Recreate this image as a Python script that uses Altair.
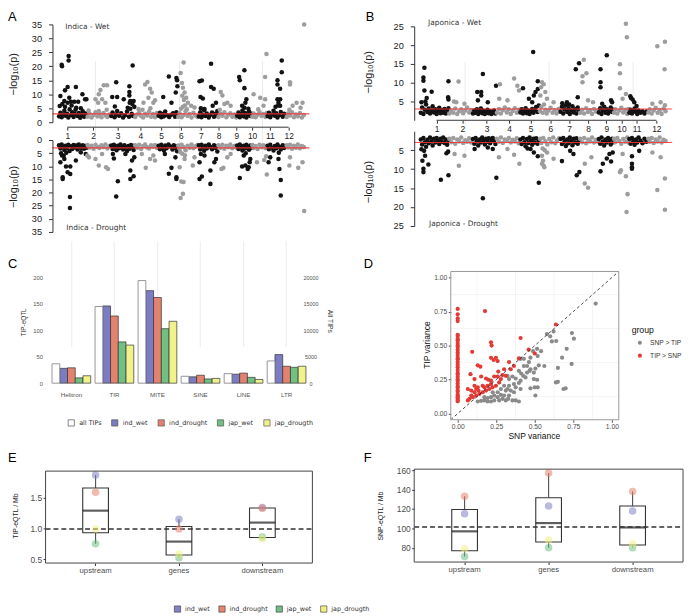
import altair as alt
import pandas as pd

FONT = "Liberation Sans"
DEJA = "DejaVu Sans"
W, H = 685, 608   # drawing area (page minus the 8px margin)

# ---------------- data: panels A / B (Manhattan plots) ----------------
CHROM_LEN = [43.3, 35.9, 36.4, 35.5, 29.9, 31.2, 29.7, 28.4, 23.0, 23.2, 29.0, 27.5]
A_TICKS = [13.5, 52.5, 90, 124.5, 156, 186, 216, 243, 270, 294, 321, 349.5]
B_TICKS = [25, 64, 101, 135, 167.5, 197.5, 226, 255, 282.5, 305.5, 328.5, 358.5]

# (Mb within chromosome, -log10 p) per chromosome
IND_WET = [
    [(1,2.1),(3,3.4),(5,1.8),(7,2.8),(9,4.1),(11,2.3),(13,3.0),(15,1.7),(17,4.6),(19,2.6),(21,3.6),(23,1.9),(25,2.9),(27,5.2),(29,2.2),(31,3.3),(33,1.6),(35,2.7),(37,3.9),(39,2.0),(41,3.1),(43,2.4),(2,5.8),(6,6.5),(10,5.5),(14,7.0),(20,6.0),(26,4.5),(34,5.0),
     (5,20.6),(5.5,20.0),(15.5,23.7),(15.5,22.1),(14,12.6),(10,11.4),(26.5,12.6),(3,9.4),(9,7.6),(19,7.3),(24,7.3),(30,7.3),(16.5,8.8),(36.5,10.0),(40.5,8.2),(42.5,8.2)],
    [(1,2.0),(4,3.1),(7,1.7),(10,2.6),(13,3.6),(16,2.1),(19,2.9),(22,1.8),(25,3.3),(28,2.4),(31,1.9),(34,2.8),(2.5,4.2),(18,4.0),(30,4.5),
     (18,10.0),(20.5,11.5),(25.5,13.2),(30.5,13.2),(13,8.2),(23,8.2),(17,7.0),(28,7.0)],
    [(1,2.2),(3,3.5),(6,1.8),(8,2.7),(10,4.0),(13,2.3),(16,3.2),(19,1.7),(22,2.5),(25,3.8),(28,2.0),(30,4.8),(32,3.0),(34,2.2),(36,5.5),(26,5.2),(33,6.5),(29,7.0),
     (8.5,14.3),(2.5,9.0),(10,9.0),(6.5,5.6),(28.5,12.9),(28.5,10.8),(28.5,9.6),(30,7.6),(35,7.6),(20,8.2),(33.5,20.3)],
    [(1,1.9),(4,2.8),(7,3.5),(10,2.2),(13,1.7),(16,3.0),(19,2.4),(22,3.8),(25,2.0),(28,2.9),(31,1.8),(34,3.3),(12,4.5),(24,5.0),
     (16,13.5),(19.5,14.4),(23.5,12.0),(21,8.8),(26,10.6),(31,7.9),(13.5,7.0),(6,4.7),(28.5,7.0)],
    [(1,2.3),(3,3.4),(5,1.8),(7,2.9),(9,2.1),(11,3.8),(14,2.5),(17,1.9),(20,2.7),(23,3.2),(26,2.0),(28,3.6),(29,2.4),
     (16.5,16.4),(8,9.0),(20.5,7.0),(28,15.8),(29,15.0),(29.5,12.9),(27,10.6)],
    [(1,2.0),(3,3.2),(6,1.8),(9,2.6),(12,3.9),(15,2.2),(18,2.9),(21,1.7),(24,3.4),(27,2.4),(30,1.9),(5,4.8),(8,5.5),(11,6.0),(14,4.6),
     (9,21.4),(4.5,17.6),(6.5,14.0),(8,12.3),(10.5,10.6),(13,8.8),(15.5,7.0),(20.5,5.9),(25.5,5.3),(7,9.5),(9.5,8.0)],
    [(1,2.1),(3,3.6),(5,1.8),(7,2.7),(9,4.3),(11,2.2),(13,3.1),(16,1.7),(18,2.6),(21,3.5),(24,2.0),(26,3.0),(28,2.4),(29,4.0),(4,5.0),
     (2,14.7),(5.5,14.9),(3.5,9.0),(7,8.5),(19.5,20.9),(19.5,12.6),(23.5,12.0),(27,7.0),(22,5.9),(9.5,4.7)],
    [(1,1.9),(4,3.0),(7,2.3),(10,3.6),(13,1.8),(16,2.7),(19,3.2),(22,2.0),(25,2.8),(28,1.7),(3,4.5),
     (4.5,10.8),(7,9.6),(14.5,7.0),(19.5,5.9),(10,6.5)],
    [(1,2.3),(3,3.5),(5,1.8),(7,2.9),(9,4.2),(11,2.1),(13,3.3),(15,1.7),(17,2.6),(19,3.8),(21,2.2),(23,3.0),(12,5.2),(18,4.8),
     (4,16.2),(5,15.0),(12,18.6),(12,12.2),(15,8.2),(13.5,7.0),(8.5,5.9)],
    [(1,2.0),(3,3.1),(6,1.8),(9,2.7),(12,3.6),(15,2.2),(18,2.9),(21,1.9),(23,3.3),(10,4.6),
     (3,10.0),(18,5.9),(20.5,8.2),(22.5,24.4),(13,8.8),(20.5,16.2)],
    [(1,2.2),(3,3.4),(5,1.8),(8,2.8),(10,4.1),(12,2.3),(14,3.2),(16,1.7),(19,2.6),(21,3.7),(24,2.0),(26,3.0),(28,2.4),(13,5.5),(17,6.0),
     (16,15.0),(16,13.5),(16,8.2),(17.5,7.0),(20,5.9),(22.5,22.1),(22.5,17.9),(20,12.0),(20,8.2)],
    [(1,1.9),(3,3.1),(6,2.4),(9,3.6),(12,1.8),(15,2.8),(18,2.1),(21,3.3),(24,1.7),(27,2.6),(5,4.5),(22,5.2),
     (6,14.3),(6,13.5),(16,7.0),(25,7.0),(27.5,35.0),(10,5.9)],
]

IND_DRY = [
    [(1,2.0),(3,3.2),(5,1.7),(7,2.6),(9,3.8),(11,2.2),(13,3.0),(15,1.8),(17,4.2),(19,2.4),(21,3.4),(23,1.9),(25,2.8),(27,2.1),(29,3.6),(31,1.7),(33,2.6),(35,3.1),(37,2.0),(39,3.3),(41,2.3),(43,2.9),(4,5.0),(8,6.0),(12,4.8),
     (6.5,14.8),(6.5,14.2),(11.5,10.1),(14,12.3),(18,10.1),(18,12.9),(17.5,21.7),(17.5,25.9),(3,8.5),(9,7.2),(5.5,5.9),(26.5,7.8),(34,4.7),(41.5,5.3)],
    [(1,1.9),(4,2.8),(7,2.2),(10,3.3),(13,1.8),(16,2.6),(19,3.0),(22,2.0),(25,2.7),(28,1.7),(31,3.2),(34,2.3),
     (3,6.6),(13,7.2),(18,9.7),(29,10.4),(32,11.0),(23,5.3),(0.5,5.9)],
    [(1,2.1),(3,3.4),(5,1.8),(7,2.9),(9,3.9),(11,2.2),(13,3.1),(15,1.7),(17,2.6),(19,3.6),(21,2.0),(23,2.9),(25,4.2),(27,2.3),(29,3.3),(31,1.9),(33,2.7),(35,3.8),(36,2.2),
     (8.5,21.5),(11,15.7),(5,7.0),(30,11.6),(30,14.8),(35,13.8),(32.5,7.8),(36,6.6),(22.5,5.3),(3.5,5.3)],
    [(1,2.0),(4,2.9),(7,1.8),(10,3.4),(13,2.3),(16,1.7),(19,2.8),(22,3.2),(25,2.0),(28,2.6),(31,1.9),(34,3.0),
     (17,10.6),(23.5,7.2),(28.5,5.9),(11,5.3),(31,7.8)],
    [(1,2.2),(3,3.5),(5,1.8),(7,2.8),(9,4.0),(11,2.1),(13,3.1),(16,1.7),(19,2.5),(22,3.6),(24,2.0),(26,3.0),(28,2.4),(29,4.3),
     (16.5,12.8),(20.5,10.6),(28,14.2),(28,14.8),(26.5,6.6),(10.5,5.3)],
    [(1,2.1),(3,3.3),(6,1.8),(9,2.7),(12,3.9),(15,2.2),(18,2.9),(21,1.7),(24,3.1),(27,2.4),(30,1.9),(4,4.6),(7,5.2),(11,5.8),
     (4.5,22.1),(8,20.5),(5.5,15.8),(9,16.0),(3,10.4),(10.5,7.2),(23,9.7),(25.5,6.6)],
    [(1,2.0),(3,3.6),(5,1.8),(7,2.7),(9,4.1),(11,2.2),(13,3.2),(16,1.7),(18,2.6),(21,3.5),(24,2.0),(26,3.0),(28,2.4),(29,4.4),(4,5.3),
     (2,14.8),(5.5,13.9),(2,8.5),(18.5,16.7),(18.5,11.6),(24.5,8.5),(27,7.2),(9.5,5.9)],
    [(1,2.0),(4,2.9),(7,1.8),(10,3.3),(13,2.2),(16,2.7),(19,1.7),(22,3.1),(25,2.3),(28,2.8),
     (5.5,11.0),(8.5,10.6),(14.5,6.6),(19.5,5.3)],
    [(1,2.1),(3,3.4),(5,1.7),(7,2.8),(9,4.0),(11,2.2),(13,3.2),(15,1.8),(17,2.6),(19,3.7),(21,2.1),(23,3.0),(14,5.0),
     (5,14.5),(8.5,10.1),(13.5,9.7),(17,11.0),(18.5,10.4),(20,8.5),(21,7.2),(11,5.9)],
    [(1,1.9),(3,3.0),(6,2.3),(9,3.4),(12,1.8),(15,2.7),(18,2.0),(21,3.1),(23,2.4),
     (8,8.5),(19,7.6),(22,6.2),(23,13.1)],
    [(1,2.2),(3,3.5),(5,1.8),(8,2.9),(10,4.0),(12,2.3),(14,3.1),(16,1.7),(19,2.6),(21,3.6),(24,2.0),(26,3.0),(28,2.4),(18,4.8),
     (21,21.1),(21,15.2),(19,11.0),(17.5,7.2),(2.5,8.5),(5,6.6)],
    [(1,2.0),(3,2.8),(6,1.8),(9,3.3),(12,2.2),(15,2.9),(18,1.7),(21,3.1),(24,2.3),(27,2.7),
     (5,9.7),(6,6.6),(18.5,10.6),(25,8.5),(27.5,27.0)],
]

JAP_WET = [
    [(1,2.0),(3,3.4),(5,1.7),(7,2.8),(9,4.2),(11,2.2),(13,3.1),(15,1.8),(17,2.6),(19,3.7),(21,2.1),(23,2.9),(25,1.7),(27,2.5),(29,3.3),(31,1.9),(33,2.7),(35,2.0),(37,3.0),(39,1.8),(41,2.6),(43,3.2),(2,4.8),(8,5.0),
     (6.5,14.0),(5,11.4),(5,10.5),(6.5,7.9),(10,5.9),(17.5,7.6),(43,10.4),(42.5,6.1),(43,5.5)],
    [(1,1.8),(4,2.6),(7,2.0),(10,3.1),(13,1.7),(16,2.4),(19,2.9),(22,1.9),(25,2.6),(28,3.4),(31,2.1),(34,2.7),
     (15,10.3),(8,5.0),(24,4.4),(11.5,4.8)],
    [(1,1.8),(3,2.6),(5,2.0),(7,2.9),(9,1.7),(11,2.4),(13,3.1),(15,1.9),(17,2.5),(19,1.7),(21,2.2),(23,2.8),(25,1.9),(27,2.4),(29,1.7),(31,2.1),(33,2.6),(35,1.8),
     (16,12.3),(7.5,7.5),(13.5,7.5),(13.5,6.6),(8.5,5.3),(23.5,4.8),(36,9.2)],
    [(1,2.0),(4,3.0),(7,1.8),(10,2.7),(13,3.4),(16,2.1),(19,2.9),(22,1.7),(25,2.5),(28,3.2),(31,2.0),(34,2.8),
     (5.5,9.6),(27,11.1),(32,9.2),(34.5,7.9),(4.5,5.7),(17,5.3)],
    [(1,2.1),(3,2.9),(5,1.8),(7,2.5),(9,3.2),(11,1.9),(13,2.6),(15,1.7),(17,2.3),(19,3.0),(21,2.0),(23,2.7),(25,3.5),(27,2.2),(29,3.9),
     (20.5,18.2),(5,8.5),(27.5,10.4),(27.5,8.3),(21.5,6.6),(19,4.8),(24,7.5),(14,5.7)],
    [(1,2.4),(3,3.5),(5,2.0),(7,4.2),(9,2.8),(11,1.8),(14,2.6),(17,3.3),(20,2.0),(23,2.7),(26,1.8),(29,3.0),(31,2.3),
     (4,10.1),(6.5,9.6),(2.5,8.8),(9,7.5),(1.5,6.6),(11.5,5.7),(21.5,4.8)],
    [(1,2.3),(3,3.6),(5,1.8),(7,2.9),(9,4.0),(11,2.2),(13,3.2),(15,1.7),(17,2.6),(19,3.7),(21,2.1),(23,2.9),(25,1.8),(27,3.4),(29,2.4),(3.5,4.5),(14,4.2),
     (24,13.6),(29,15.2),(27,6.1),(10.5,4.8)],
    [(1,2.0),(4,2.8),(7,1.8),(10,3.2),(13,2.2),(16,2.7),(19,1.7),(22,3.0),(25,2.3),(28,2.6),
     (6.5,16.1),(4.5,11.7),(4.5,10.1),(10.5,12.5),(13,5.3),(20.5,4.8)],
    [(1,2.1),(3,3.2),(5,1.7),(7,2.6),(9,3.6),(11,2.0),(13,2.9),(15,1.8),(17,2.5),(19,3.4),(21,2.2),(23,2.8),
     (3.5,13.6),(3.5,10.1),(3.5,8.8),(13,17.3),(6,4.4),(19.5,5.3),(21,4.8)],
    [(1,2.0),(3,2.9),(6,1.8),(9,2.6),(12,3.3),(15,2.1),(18,2.8),(21,1.7),(23,3.0),
     (19,25.7),(20.5,22.1),(10,14.9),(10,12.5),(10,8.5),(19,7.0),(14,5.7)],
    [(1,2.0),(3,2.8),(5,1.8),(7,2.5),(9,3.1),(11,2.2),(13,1.7),(15,2.6),(18,2.0),(21,2.4),(24,1.8),(27,2.3),
     (2.5,6.4),(3.5,5.9),(6,5.5),(12,3.8),(8.5,4.8)],
    [(1,2.1),(3,2.9),(6,1.8),(9,2.6),(12,3.3),(15,2.0),(18,2.7),(21,1.7),(24,3.1),(27,2.4),
     (14.5,19.7),(26,20.9),(25.5,13.6),(26,4.0),(19.5,4.8),(7,4.4)],
]

JAP_DRY = [
    [(1,2.2),(3,3.5),(5,1.8),(7,2.9),(9,4.1),(11,2.3),(13,3.2),(15,1.7),(17,2.7),(19,3.8),(21,2.0),(23,3.0),(25,1.8),(27,2.6),(29,3.4),(31,2.0),(33,2.8),(35,1.7),(37,3.1),(39,2.2),(41,3.6),(43,2.5),(2,4.8),(6,5.2),
     (3.5,7.8),(5,9.9),(5,10.8),(12.5,8.8),(31.5,12.8),(43,11.6),(40,5.8),(42.5,5.4),(7.5,6.5)],
    [(1,2.0),(4,2.9),(7,1.8),(10,3.3),(13,2.2),(16,2.7),(19,1.7),(22,3.1),(25,2.4),(28,2.8),(31,1.9),(34,3.0),
     (15.5,9.1),(9,6.0),(24,6.5)],
    [(1,2.1),(3,3.3),(5,1.8),(7,2.7),(9,3.8),(11,2.2),(13,3.0),(15,1.7),(17,2.5),(19,3.5),(21,2.0),(23,2.8),(25,1.9),(27,3.2),(29,2.3),(31,1.8),(33,2.6),(35,3.4),
     (16,17.7),(3.5,4.7),(23.5,4.3),(31,4.7),(36.5,12.3)],
    [(1,2.0),(4,2.8),(7,1.7),(10,3.1),(13,2.2),(16,2.6),(19,1.8),(22,3.0),(25,2.3),(28,2.7),(31,1.9),(34,3.2),
     (4,6.9),(27,6.2),(35,8.6),(17,4.7)],
    [(1,2.2),(3,3.4),(5,1.8),(7,2.9),(9,4.0),(11,2.1),(13,3.1),(15,1.7),(17,2.6),(19,3.6),(21,2.0),(23,3.0),(25,1.9),(27,3.3),(29,2.4),(12,4.6),
     (29,13.6),(27.5,6.6),(16.5,4.7),(21.5,5.6)],
    [(1,2.0),(3,3.1),(6,1.8),(9,2.7),(12,3.5),(15,2.1),(18,2.9),(21,1.7),(24,3.2),(27,2.4),(30,1.9),(5,4.6),(8,5.0),
     (4,6.5),(5.5,7.8),(6.5,9.1),(4,8.6),(7.5,9.5),(21.5,7.3),(11.5,5.6)],
    [(1,2.1),(3,3.4),(5,1.8),(7,2.8),(9,3.9),(11,2.2),(13,3.2),(15,1.7),(17,2.6),(19,3.7),(21,2.0),(23,3.0),(25,1.9),(27,3.3),(29,2.5),
     (3,7.9),(25.5,11.6),(29.5,10.8),(20.5,6.0),(15.5,5.2)],
    [(1,2.0),(4,2.9),(7,1.8),(10,3.2),(13,2.2),(16,2.7),(19,1.7),(22,3.0),(25,2.3),(28,2.8),
     (8,8.6),(8,13.8),(13,14.9),(18,6.9)],
    [(1,2.1),(3,3.3),(5,1.7),(7,2.8),(9,3.8),(11,2.2),(13,3.0),(15,1.8),(17,2.6),(19,3.5),(21,2.0),(23,2.9),
     (3.5,10.6),(7,8.6),(13,7.2),(19.5,8.0),(17,6.0),(22,5.6)],
    [(1,2.0),(3,2.9),(6,1.8),(9,2.6),(12,3.3),(15,2.1),(18,2.8),(21,1.7),(23,3.0),
     (10,10.8),(11.5,10.3),(19,11.9),(21.5,16.6),(20,21.3),(14,6.0)],
    [(1,2.1),(3,3.3),(5,1.8),(7,2.7),(9,3.6),(11,2.2),(13,3.0),(15,1.7),(18,2.5),(21,3.2),(24,2.0),(27,2.8),
     (5,6.6),(5,8.6),(5,9.5),(5,9.9),(16,5.2)],
    [(1,2.0),(3,2.8),(6,1.8),(9,3.1),(12,2.2),(15,2.7),(18,1.7),(21,3.0),(24,2.3),(27,2.6),
     (14.5,15.5),(26,12.5),(26,20.7),(19.5,6.9),(7,5.6)],
]
THRESHOLD = 3.0

# ---------------- data: panel C ----------------
TE_TYPES = ["Helitron", "TIR", "MITE", "SINE", "LINE", "LTR"]
C_GROUPS = ["all TIPs", "ind_wet", "ind_drought", "jap_wet", "jap_drougth"]
ALL_TIPS = [3660, 14500, 19400, 1300, 1800, 4200]
C_IND_WET = [28, 146, 175, 12, 17, 54]
C_IND_DROUGHT = [29, 127, 162, 15, 19, 32]
C_JAP_WET = [10, 78, 103, 8, 11, 30]
C_JAP_DROUGTH = [14, 72, 117, 9, 7, 32]
C_COLORS = ["#ffffff", "#7c7cc2", "#e2836f", "#70bf83", "#f2f28c"]

# ---------------- data: panel D ----------------
D_TIP_X = [0,0,0,0,0,0,0,0,0,0,0,0,0,0,0,0,0,0,0,0,0,0,0,0,0,0,0,0,0,0,0,0,0,0,0,0,
           0.177,0.094,0.216,0.22,0.408,0.637,0.5,0.46,0.397,0.333,0.13,0.147,0.216,0.233,0.248,0.259,
           0.083,0.109,0.152,0.184,0.199,0.237,0.263,0.301,0.291,0.109,0.13,0.162,0.194,0.216,0.259,
           0.066,0.088,0.12,0.077,0.098,0.12,0.141,0.162,0.184,0.205,0.226,0.248,0.269,0.28,0.312,
           0.344,0.365,0.066,0.088,0.109,0.135,0.173,0.216]
D_TIP_Y = [0.77,0.73,0.70,0.68,0.58,0.57,0.55,0.54,0.52,0.50,0.49,0.47,0.45,0.43,0.41,0.40,0.38,0.36,
           0.34,0.32,0.30,0.29,0.27,0.25,0.24,0.22,0.20,0.19,0.17,0.16,0.14,0.13,0.12,0.11,0.10,0.09,
           0.754,0.454,0.524,0.50,0.556,0.655,0.442,0.47,0.406,0.379,0.355,0.345,0.41,0.394,0.41,0.386,
           0.29,0.254,0.273,0.258,0.249,0.273,0.309,0.326,0.283,0.205,0.193,0.205,0.205,0.217,0.273,
           0.181,0.169,0.181,0.109,0.121,0.133,0.145,0.157,0.169,0.181,0.193,0.205,0.229,0.254,0.278,
           0.326,0.35,0.097,0.133,0.157,0.169,0.193,0.242]
D_SNP_X = [0.895,0.741,0.754,0.639,0.611,0.6,0.622,0.579,0.541,0.515,0.519,0.489,0.562,0.739,0.707,
           0.677,0.65,0.637,0.65,0.686,0.7,0.494,0.515,0.5,0.519,0.504,0.472,0.466,0.462,0.429,0.412,
           0.425,0.376,0.397,0.408,0.365,0.344,0.333,0.376,0.397,0.355,0.327,0.312,0.291,0.269,0.237,
           0.216,0.194,0.173,0.152,0.13,0.323,0.333,0.355,0.301,0.28,0.259,0.237,0.216,0.194,0.28,
           0.312,0.333,0.365,0.259,0.301,0.173,0.227,0.376,0.408,0.44,0.45,0.472,0.494,0.504,0.526,
           0.397,0.323,0.408,0.429,0.472,0.45]
D_SNP_Y = [0.809,0.592,0.551,0.534,0.531,0.568,0.604,0.585,0.459,0.476,0.423,0.459,0.35,0.365,0.476,
           0.411,0.336,0.229,0.234,0.181,0.186,0.254,0.249,0.193,0.193,0.133,0.186,0.314,0.379,0.35,0.295,
           0.278,0.258,0.225,0.181,0.157,0.169,0.133,0.097,0.089,0.097,0.109,0.097,0.109,0.097,0.097,
           0.089,0.089,0.097,0.094,0.089,0.278,0.254,0.273,0.205,0.181,0.157,0.133,0.121,0.114,0.138,
           0.169,0.205,0.217,0.121,0.133,0.121,0.157,0.193,0.242,0.266,0.302,0.326,0.302,0.331,0.355,
           0.314,0.181,0.403,0.403,0.411,0.35]

# ---------------- data: panels E / F ----------------
REGIONS = ["upstream", "genes", "downstream"]
GROUPS = ["ind_wet", "ind_drought", "jap_wet", "jap_drougth"]
E_COLORS = ["#8282c8", "#e8836e", "#6ebf85", "#f0f07f"]
TIP_IND_WET = [1.87, 1.15, 1.34]
TIP_IND_DROUGHT = [1.59, 0.99, 1.33]
TIP_JAP_WET = [0.75, 0.52, 0.86]
TIP_JAP_DROUGTH = [0.99, 0.58, 0.83]
TIP_MEAN = 0.99
SNP_IND_WET = [115, 123, 118]
SNP_IND_DROUGHT = [133, 157, 138]
SNP_JAP_WET = [71, 80, 80]
SNP_JAP_DROUGTH = [79, 88, 84]
SNP_MEAN = 101.5


def letter(ch, x, y):
    return alt.Chart(pd.DataFrame({"t": [ch]})).mark_text(
        align="left", baseline="top", font=FONT, fontSize=13, color="#000"
    ).encode(text="t:N", x=alt.value(x), y=alt.value(y))


def note(txt, x, y):
    return alt.Chart(pd.DataFrame({"t": [txt]})).mark_text(
        align="left", baseline="middle", font=DEJA, fontSize=7.5, color="#333"
    ).encode(text="t:N", x=alt.value(x), y=alt.value(y))


def frame(x0, x1, y0, y1, color):
    return alt.Chart(pd.DataFrame({"t": [0]})).mark_rect(
        fill="transparent", stroke=color, strokeWidth=1
    ).encode(x=alt.value(x0), x2=alt.value(x1), y=alt.value(y0), y2=alt.value(y1))


def manhattan(chroms, xdom, xrange, ydom, yrange, yvals, yaxis_px, tx, ty,
              ticks=None, xaxis_px=None, txt=None):
    rows = []
    start = 0.0
    for i, pts in enumerate(chroms):
        col = "#121212" if i % 2 == 0 else "#9d9d9d"
        for p, v in pts:
            rows.append({"pos": start + p, "val": v, "col": col})
        start += CHROM_LEN[i]
    df = pd.DataFrame(rows)
    xs = alt.Scale(domain=xdom, range=xrange, nice=False, zero=False)
    ys = alt.Scale(domain=ydom, range=yrange, nice=False, zero=False)
    if ticks is not None:
        expr = "''"
        for i in reversed(range(len(ticks))):
            expr = f"datum.value == {ticks[i]} ? '{i + 1}' : ({expr})"
        xaxis = alt.Axis(orient="bottom", values=ticks, labelExpr=expr, domain=False,
                         tickSize=3, tickColor="#333", labelFontSize=8.5,
                         labelColor="#222", labelPadding=1.5, offset=xaxis_px - H,
                         grid=False, title=None, labelFont=FONT, labelFlush=False,
                         labelOverlap=False)
    else:
        xaxis = None
    yaxis = alt.Axis(orient="left", values=yvals, tickSize=4, labelFontSize=9.3,
                     labelPadding=7, offset=-yaxis_px, domainColor="#333",
                     tickColor="#333", labelColor="#222", grid=False, title="−log₁₀(p)",
                     titleFontSize=11, titleFontWeight="normal", titleColor="#222",
                     titleX=tx, titleY=ty, titleAngle=-90, titleAlign="center",
                     titleBaseline="middle", labelFlush=False, labelOverlap=False,
                     labelBound=False, zindex=1, labelFont=FONT, titleFont=FONT)
    X = alt.X("pos:Q", scale=xs, axis=xaxis)
    Y = alt.Y("val:Q", scale=ys, axis=yaxis)
    pts = alt.Chart(df).mark_circle(size=21, opacity=1).encode(
        x=X, y=Y, color=alt.Color("col:N", scale=None))
    thr = alt.Chart(pd.DataFrame({"pos": [-9.0], "pos2": [xdom[1]], "val": [THRESHOLD]})).mark_rule(
        color="#ff3030", strokeWidth=1.1, opacity=0.85).encode(x=X, x2="pos2:Q", y=Y)
    layers = [pts, thr]
    if ticks is not None:
        axl = alt.Chart(pd.DataFrame({"pos": [ticks[0]], "pos2": [ticks[-1]]})).mark_rule(
            color="#333", strokeWidth=1).encode(x=X, x2="pos2:Q", y=alt.value(xaxis_px))
        layers.append(axl)
    if txt is not None:
        layers.append(note(*txt))
    return alt.layer(*layers)


# ----- A and B (plot coordinates = page - 8) -----
a_up = manhattan(IND_WET, [-9, 381], [45, 305], [0, 35], [112, 13], list(range(0, 36, 5)),
                 45, -39, 63, ticks=A_TICKS, xaxis_px=117, txt=("Indica - Wet", 58, 15.3))
a_low = manhattan(IND_DRY, [-9, 381], [45, 305], [0, 35], [130, 223], list(range(0, 36, 5)),
                  45, -39, 177, txt=("Indica - Drought", 59, 219.3))
b_up = manhattan(JAP_WET, [-9, 382.5], [411, 672], [0, 25], [110, 15], [5, 10, 15, 20, 25],
                 411, -46, 61, ticks=B_TICKS, xaxis_px=110, txt=("Japonica - Wet", 425, 12))
b_low = manhattan(JAP_DRY, [-9, 382.5], [411, 672], [0, 25], [121, 217], [5, 10, 15, 20, 25],
                  411, -46, 172, txt=("Japonica - Drought", 426, 215.3))

# ----- C -----
c_rows = []
for g, vals in zip(C_GROUPS[1:], [C_IND_WET, C_IND_DROUGHT, C_JAP_WET, C_JAP_DROUGTH]):
    for t, v in zip(TE_TYPES, vals):
        c_rows.append({"te": t, "grp": g, "val": v})
c_long = pd.DataFrame(c_rows)
c_all = pd.DataFrame({"te": TE_TYPES, "grp": ["all TIPs"] * 6, "val": ALL_TIPS})

xC = alt.X("te:N", sort=TE_TYPES,
           scale=alt.Scale(domain=TE_TYPES, range=[38, 308], paddingInner=0.1,
                           paddingOuter=0.15),
           axis=alt.Axis(orient="bottom", offset=381 - H, title=None, labelFontSize=6.3,
                         labelColor="#555", ticks=False, domain=False, labelPadding=4,
                         grid=True, gridColor="#ececec", bandPosition=0.5, labelAngle=0,
                         labelFont=FONT))
xoC = alt.XOffset("grp:N", scale=alt.Scale(domain=C_GROUPS, paddingInner=0, paddingOuter=0))
fillC = alt.Fill("grp:N", scale=alt.Scale(domain=C_GROUPS, range=C_COLORS),
                 legend=alt.Legend(orient="none", legendX=60, legendY=412,
                                   direction="horizontal", title=None, symbolType="square",
                                   symbolSize=40, symbolStrokeColor="#555",
                                   symbolStrokeWidth=0.7, labelFont=DEJA, labelFontSize=6.5,
                                   labelColor="#333", columnPadding=8, labelOffset=4,
                                   padding=0))
c_eqtl = alt.Chart(c_long).mark_bar(stroke="#333333", strokeWidth=0.7).encode(
    x=xC, xOffset=xoC,
    y=alt.Y("val:Q", scale=alt.Scale(domain=[0, 200], range=[376, 269], nice=False, zero=False),
            axis=alt.Axis(orient="left", offset=-38, values=[0, 50, 100, 150, 200],
                          ticks=False, domain=False, labelFontSize=6, labelColor="#555",
                          labelPadding=3, gridColor="#ebebeb", title="TIP-eQTL",
                          titleFontSize=6.5, titleFontWeight="normal", titleColor="#333",
                          titleX=-22.5, titleY=314, titleAngle=-90, titleAlign="center",
                          titleBaseline="middle", labelFont=FONT, titleFont=FONT)),
    y2=alt.datum(0), fill=fillC)
c_tips = alt.Chart(c_all).mark_bar(stroke="#8a8a8a", strokeWidth=0.9).encode(
    x=xC, xOffset=xoC,
    y=alt.Y("val:Q", scale=alt.Scale(domain=[0, 20000], range=[376, 269], nice=False,
                                     zero=False),
            axis=alt.Axis(orient="right", offset=308 - W, values=[0, 5000, 10000, 15000, 20000],
                          format="d", ticks=False, tickSize=0, domain=False, grid=False,
                          labelFontSize=5.5, labelColor="#555", labelPadding=-2,
                          labelAlign="center", title="All TIPs", titleFontSize=6.8,
                          titleFontWeight="normal", titleColor="#333", titleX=17,
                          titleY=313, titleAngle=90, titleAlign="center",
                          titleBaseline="middle", labelFont=FONT, titleFont=FONT)),
    y2=alt.datum(0), fill=fillC)
c_chart = alt.layer(c_eqtl, c_tips).resolve_scale(y="independent")

# ----- D -----
d_df = pd.DataFrame({
    "snp": D_SNP_X + D_TIP_X,
    "tip": D_SNP_Y + D_TIP_Y,
    "grp": ["SNP > TIP"] * len(D_SNP_X) + ["TIP > SNP"] * len(D_TIP_X),
})
DDOM = [-0.045, 1.045]
XD = alt.X("snp:Q", scale=alt.Scale(domain=DDOM, range=[448, 618], nice=False, zero=False),
           axis=alt.Axis(orient="bottom", offset=413 - H, values=[0, 0.25, 0.5, 0.75, 1.0],
                         format=".2f", title="SNP variance", titleFontSize=8.6,
                         titleFontWeight="normal", titleColor="#111", titleX=532, titleY=16,
                         titleBaseline="middle", titleAlign="center", labelFontSize=6.8,
                         labelColor="#4d4d4d", tickSize=2.5, tickColor="#4d4d4d",
                         domain=False, gridColor="#ebebeb", labelPadding=1.5,
                         labelFlush=False, labelFont=FONT, titleFont=FONT))
YD = alt.Y("tip:Q", scale=alt.Scale(domain=DDOM, range=[413, 263], nice=False, zero=False),
           axis=alt.Axis(orient="left", offset=-448, values=[0, 0.25, 0.5, 0.75, 1.0],
                         format=".2f", title="TIP variance", titleFontSize=8.6,
                         titleFontWeight="normal", titleColor="#111", titleX=-24.3,
                         titleY=337, titleAngle=-90, titleBaseline="middle",
                         titleAlign="center", labelFontSize=6.8, labelColor="#4d4d4d",
                         tickSize=2.5, tickColor="#4d4d4d", domain=False,
                         gridColor="#ebebeb", labelPadding=1.5, labelFlush=False,
                         labelFont=FONT, titleFont=FONT))
MINOR_D = [0.125, 0.375, 0.625, 0.875]
d_minx = alt.Chart(pd.DataFrame({"snp": MINOR_D, "tip": [DDOM[0]] * 4, "tip2": [DDOM[1]] * 4})
                   ).mark_rule(color="#f4f4f4").encode(x=XD, y=YD, y2="tip2:Q")
d_miny = alt.Chart(pd.DataFrame({"tip": MINOR_D, "snp": [DDOM[0]] * 4, "snp2": [DDOM[1]] * 4})
                   ).mark_rule(color="#f4f4f4").encode(y=YD, x=XD, x2="snp2:Q")
d_pts = alt.Chart(d_df).mark_circle(size=18, opacity=1).encode(
    x=XD, y=YD,
    color=alt.Color("grp:N", scale=alt.Scale(domain=["SNP > TIP", "TIP > SNP"],
                                             range=["#8a8a8a", "#e23b35"]),
                    legend=alt.Legend(title="group", orient="none", legendX=631, legendY=318,
                                      titleFontSize=8.8, titleFontWeight="normal",
                                      titleFont=FONT, titleColor="#111", labelFontSize=6.7,
                                      labelColor="#333", labelFont=FONT, symbolType="circle",
                                      symbolSize=17, symbolOffset=5, rowPadding=5,
                                      labelOffset=7, padding=0, titlePadding=5,
                                      symbolStrokeWidth=0)))
d_diag = alt.Chart(pd.DataFrame({"snp": [DDOM[0]], "tip": [DDOM[0]], "snp2": [DDOM[1]],
                                 "tip2": [DDOM[1]]})).mark_rule(
    color="#1a1a1a", strokeWidth=0.8, strokeDash=[3, 2.5]).encode(
    x=XD, y=YD, x2="snp2:Q", y2="tip2:Q")
d_chart = alt.layer(d_minx, d_miny, d_pts, d_diag)


# ----- E / F -----
def boxpanel(series, xrange, ydom, yrange, yvals, fmt, mean, title, yaxis_px, xaxis_px,
             tx, ty, legend):
    rows = []
    for g, vals in zip(GROUPS, series):
        for r, v in zip(REGIONS, vals):
            rows.append({"region": r, "grp": g, "val": v})
    df = pd.DataFrame(rows)
    X = alt.X("region:N", sort=REGIONS,
              scale=alt.Scale(domain=REGIONS, range=xrange, paddingInner=0, paddingOuter=0.1),
              axis=alt.Axis(orient="bottom", offset=xaxis_px - H, title=None, labelAngle=0,
                            labelFontSize=7.8, labelColor="#4d4d4d", tickSize=2.5,
                            tickColor="#333", domain=False, grid=True, gridColor="#ebebeb",
                            bandPosition=0.5, labelPadding=1.5, labelFont=FONT))
    Y = alt.Y("val:Q", scale=alt.Scale(domain=ydom, range=yrange, nice=False, zero=False),
              axis=alt.Axis(orient="left", offset=-yaxis_px, values=yvals, format=fmt,
                            title=title, titleFontSize=7, titleFontWeight="normal",
                            titleColor="#222", titleX=tx, titleY=ty, titleAngle=-90,
                            titleAlign="center", titleBaseline="middle", labelFontSize=8.5,
                            labelColor="#4d4d4d", tickSize=2.5, tickColor="#333",
                            domain=False, gridColor="#ebebeb", labelPadding=1.5,
                            labelFlush=False, labelFont=FONT, titleFont=FONT))
    box = alt.Chart(df).mark_boxplot(
        extent="min-max", size=26, ticks=False, outliers=False,
        box={"color": "white", "stroke": "#333333", "strokeWidth": 1.1},
        median={"color": "#1a1a1a", "thickness": 2.2},
        rule={"color": "#4d4d4d", "strokeWidth": 1.1}).encode(x=X, y=Y)
    hl = alt.Chart(pd.DataFrame({"val": [mean]})).mark_rule(
        color="#333333", strokeWidth=1.6, strokeDash=[5, 3]).encode(
        y=Y, x=alt.value(xrange[0]), x2=alt.value(xrange[1]))
    if legend:
        leg = alt.Legend(orient="none", legendX=168, legendY=601, direction="horizontal",
                         title=None, symbolType="square", symbolSize=40, symbolOpacity=1,
                         symbolStrokeColor="#333", symbolStrokeWidth=0.6, labelFont=DEJA,
                         labelFontSize=6.5, labelColor="#333", columnPadding=7,
                         labelOffset=4, padding=0)
    else:
        leg = None
    pts = alt.Chart(df).mark_circle(size=58, opacity=0.55).encode(
        x=X, y=Y, color=alt.Color("grp:N", scale=alt.Scale(domain=GROUPS, range=E_COLORS),
                                  legend=leg))
    return alt.layer(box, hl, pts)


e_chart = boxpanel([TIP_IND_WET, TIP_IND_DROUGHT, TIP_JAP_WET, TIP_JAP_DROUGTH], [38, 308],
                   [0.435, 1.935], [558, 465], [0.5, 1.0, 1.5], ".1f", TIP_MEAN,
                   "TIP-eQTL / Mb", 38, 558, -30, 510, True)
f_chart = boxpanel([SNP_IND_WET, SNP_IND_DROUGHT, SNP_JAP_WET, SNP_JAP_DROUGTH], [411, 683],
                   [65.4, 161], [557, 463], [80, 100, 120, 140, 160], "d", SNP_MEAN,
                   "SNP-eQTL / Mb", 411, 557, -34, 510, False)

# ----- assemble everything in one view, each panel with its own scales -----
chart = alt.layer(
    a_up, a_low, b_up, b_low, c_chart, d_chart, e_chart, f_chart,
    frame(448, 618, 263, 413, "#9a9a9a"),
    frame(38, 308, 465, 558, "#444444"),
    frame(411, 683, 463, 557, "#444444"),
    letter("A", 0, 0), letter("B", 362, 0), letter("C", 0, 249),
    letter("D", 360, 249), letter("E", 0, 446), letter("F", 360, 446),
).resolve_scale(
    x="independent", y="independent", color="independent", fill="independent",
    xOffset="independent",
).properties(
    width=W, height=H, padding=0, background="white",
    autosize=alt.AutoSizeParams(type="none"),
).configure_view(stroke="transparent").configure_axis(
    labelFont=FONT, titleFont=FONT).configure_legend(labelFont=FONT, titleFont=FONT)

chart.save("out.html", embed_options={"renderer": "svg", "actions": False})
